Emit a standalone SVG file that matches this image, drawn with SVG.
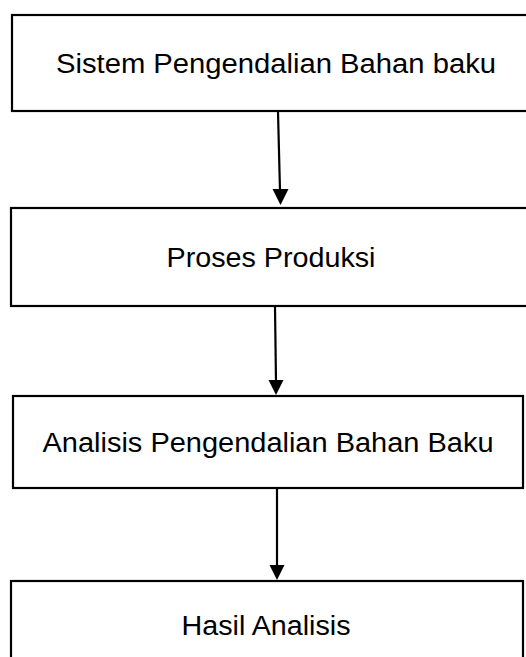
<svg xmlns="http://www.w3.org/2000/svg" width="526" height="657" viewBox="0 0 526 657">
  <style>
    .box { fill: #ffffff; stroke: #000000; stroke-width: 2.2; }
    .lbl { font-family: "Liberation Sans", Arial, sans-serif; font-size: 27px; fill: #000000; text-anchor: middle; }
    .conn { stroke: #000000; stroke-width: 2.2; fill: none; }
    .head { fill: #000000; }
  </style>
  <rect width="526" height="657" fill="#ffffff"/>
  <g id="node-sistem">
    <rect class="box" x="12" y="15" width="530" height="96"/>
    <text class="lbl" x="276" y="73" textLength="440" lengthAdjust="spacingAndGlyphs">Sistem Pengendalian Bahan baku</text>
  </g>
  <g id="node-proses">
    <rect class="box" x="11" y="208" width="530" height="98"/>
    <text class="lbl" x="271" y="267" textLength="209" lengthAdjust="spacingAndGlyphs">Proses Produksi</text>
  </g>
  <g id="node-analisis">
    <rect class="box" x="13" y="396" width="510" height="92"/>
    <text class="lbl" x="268" y="452" textLength="451" lengthAdjust="spacingAndGlyphs">Analisis Pengendalian Bahan Baku</text>
  </g>
  <g id="node-hasil">
    <rect class="box" x="11" y="581" width="512" height="84"/>
    <text class="lbl" x="266" y="635" textLength="169" lengthAdjust="spacingAndGlyphs">Hasil Analisis</text>
  </g>
  <g id="connectors">
    <line class="conn" x1="278" y1="112" x2="280" y2="191"/>
    <polygon class="head" points="272.5,189 288.5,189 280.5,205"/>
    <line class="conn" x1="275" y1="307" x2="276" y2="382"/>
    <polygon class="head" points="268.5,380 283.5,380 276,395"/>
    <line class="conn" x1="277" y1="489" x2="277" y2="567"/>
    <polygon class="head" points="269.5,565 284.5,565 277,580"/>
  </g>
</svg>
